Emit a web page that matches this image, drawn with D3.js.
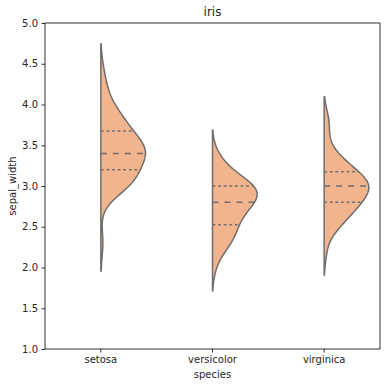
<!DOCTYPE html>
<html lang="en">
<head>
<meta charset="utf-8">
<title>iris - violin</title>
<script src="https://cdnjs.cloudflare.com/ajax/libs/d3/7.8.5/d3.min.js"></script>
<style>
  body { margin: 0; background: #fff; }
  svg text { font-family: "DejaVu Sans", sans-serif; }
  .tick text { font-size: 10px; fill: #262626; }
</style>
</head>
<body>
<div class="chart"></div>
<script>
// iris sepal_width by species
var species = ["setosa", "versicolor", "virginica"];

var setosa = [3.5,3.0,3.2,3.1,3.6,3.9,3.4,3.4,2.9,3.1,3.7,3.4,3.0,3.0,4.0,4.4,3.9,3.5,3.8,3.8,
  3.4,3.7,3.6,3.3,3.4,3.0,3.4,3.5,3.4,3.2,3.1,3.4,4.1,4.2,3.1,3.2,3.5,3.6,3.0,3.4,
  3.5,2.3,3.2,3.5,3.8,3.0,3.8,3.2,3.7,3.3];
var versicolor = [3.2,3.2,3.1,2.3,2.8,2.8,3.3,2.4,2.9,2.7,2.0,3.0,2.2,2.9,2.9,3.1,3.0,2.7,2.2,2.5,
  3.2,2.8,2.5,2.8,2.9,3.0,2.8,3.0,2.9,2.6,2.4,2.4,2.7,2.7,3.0,3.4,3.1,2.3,3.0,2.5,
  2.6,3.0,2.6,2.3,2.7,3.0,2.9,2.9,2.5,2.8];
var virginica = [3.3,2.7,3.0,2.9,3.0,3.0,2.5,2.9,2.5,3.6,3.2,2.7,3.0,2.5,2.8,3.2,3.0,3.8,2.6,2.2,
  3.2,2.8,2.8,2.7,3.3,3.2,2.8,3.0,2.8,3.0,2.8,3.8,2.8,2.8,2.6,3.0,3.4,3.1,3.0,3.1,
  3.1,3.1,2.7,3.2,3.3,3.0,2.5,3.0,3.4,3.0];

var yTicks = [1.0, 1.5, 2.0, 2.5, 3.0, 3.5, 4.0, 4.5, 5.0];

var groups = [setosa, versicolor, virginica];

var width = 390, height = 387;
var margin = {left: 45, right: 10, top: 23, bottom: 38};

var svg = d3.select(".chart").append("svg")
    .attr("width", width)
    .attr("height", height);

var x = d3.scaleBand()
    .domain(species)
    .range([margin.left, width - margin.right]);

var y = d3.scaleLinear()
    .domain([1, 5])
    .range([height - margin.bottom, margin.top]);

var fillColor = "#f2b48c",
    gray = "#6e6e6e";

// gaussian kde, scott bandwidth, cut=2, 100 points (like seaborn)
function kde(values) {
  var n = values.length;
  var bw = Math.pow(n, -1 / 5) * d3.deviation(values);
  var lo = d3.min(values) - 2 * bw, hi = d3.max(values) + 2 * bw;
  var support = d3.range(100).map(function(i) { return lo + (hi - lo) * i / 99; });
  var dens = support.map(function(s) {
    return d3.sum(values, function(v) {
      var z = (s - v) / bw;
      return Math.exp(-0.5 * z * z);
    }) / (n * bw * Math.sqrt(2 * Math.PI));
  });
  return support.map(function(s, i) { return [s, dens[i]]; });
}

function interpDens(pts, v) {
  for (var i = 1; i < pts.length; i++) {
    if (pts[i][0] >= v) {
      var t = (v - pts[i - 1][0]) / (pts[i][0] - pts[i - 1][0]);
      return pts[i - 1][1] + t * (pts[i][1] - pts[i - 1][1]);
    }
  }
  return 0;
}

var halfWidth = x.bandwidth() * 0.4;

groups.forEach(function(vals, gi) {
  var pts = kde(vals);
  var maxD = d3.max(pts, function(d) { return d[1]; });
  var w = d3.scaleLinear().domain([0, maxD]).range([0, halfWidth]);
  var cx = x(species[gi]) + x.bandwidth() / 2;

  var area = d3.area()
      .y(function(d) { return y(d[0]); })
      .x0(cx)
      .x1(function(d) { return cx + w(d[1]); });

  svg.append("path")
      .datum(pts)
      .attr("d", area)
      .attr("fill", fillColor)
      .attr("stroke", gray)
      .attr("stroke-width", 1.5)
      .attr("stroke-linejoin", "round");

  var sorted = vals.slice().sort(d3.ascending);
  [0.25, 0.5, 0.75].forEach(function(q) {
    var v = d3.quantile(sorted, q);
    svg.append("line")
        .attr("x1", cx)
        .attr("x2", cx + w(interpDens(pts, v)))
        .attr("y1", y(v))
        .attr("y2", y(v))
        .attr("stroke", gray)
        .attr("stroke-width", 1.5)
        .attr("stroke-dasharray", q == 0.5 ? "6,6" : "2.8,2.8");
  });
});

// axes
var gx = svg.append("g")
    .attr("transform", "translate(0," + (height - margin.bottom) + ")")
    .call(d3.axisBottom(x).tickSizeOuter(0).tickSize(3.5).tickPadding(3.5));
var gy = svg.append("g")
    .attr("transform", "translate(" + margin.left + ",0)")
    .call(d3.axisLeft(y).tickValues(yTicks).tickFormat(d3.format(".1f")).tickSizeOuter(0).tickSize(3.5).tickPadding(3.5));

[gx, gy].forEach(function(g) {
  g.attr("font-family", "DejaVu Sans").attr("font-size", 10);
  g.select(".domain").remove();
  g.selectAll(".tick line").attr("stroke", "#000").attr("stroke-width", 0.8);
});

// frame
svg.append("rect")
    .attr("x", margin.left)
    .attr("y", margin.top)
    .attr("width", width - margin.left - margin.right)
    .attr("height", height - margin.top - margin.bottom)
    .attr("fill", "none")
    .attr("stroke", "#000")
    .attr("stroke-width", 0.8);

svg.append("text")
    .attr("x", (margin.left + width - margin.right) / 2)
    .attr("y", margin.top - 7)
    .attr("text-anchor", "middle")
    .attr("font-size", 12)
    .attr("fill", "#262626")
    .text("iris");

svg.append("text")
    .attr("x", (margin.left + width - margin.right) / 2)
    .attr("y", height - 9)
    .attr("text-anchor", "middle")
    .attr("font-size", 10)
    .attr("fill", "#262626")
    .text("species");

svg.append("text")
    .attr("transform", "translate(16," + ((margin.top + height - margin.bottom) / 2) + ") rotate(-90)")
    .attr("text-anchor", "middle")
    .attr("font-size", 10)
    .attr("fill", "#262626")
    .text("sepal_width");
</script>
</body>
</html>
